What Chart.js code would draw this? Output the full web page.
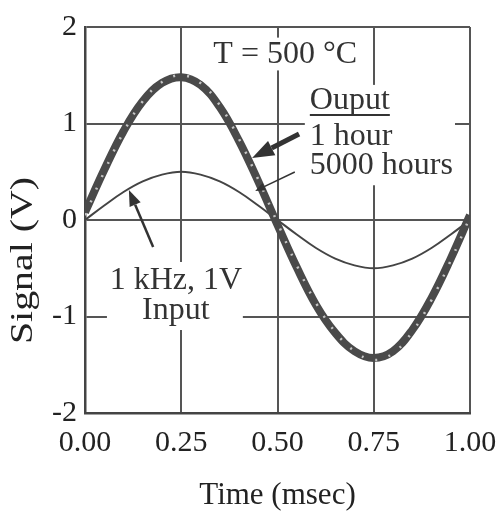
<!DOCTYPE html>
<html>
<head>
<meta charset="utf-8">
<script src="https://cdn.jsdelivr.net/npm/chart.js@4.4.0/dist/chart.umd.min.js"></script>
<style>
  html, body { margin: 0; padding: 0; background: #fff; }
  #chart { display: block; }
</style>
</head>
<body>
<canvas id="chart" width="498" height="514"></canvas>
<script>
// Time axis samples (msec)
const timeMs = [0, 0.05, 0.10, 0.15, 0.20, 0.25, 0.30, 0.35, 0.40, 0.45, 0.50,
                0.55, 0.60, 0.65, 0.70, 0.75, 0.80, 0.85, 0.90, 0.95, 1.00];

// 1 kHz, 1V input signal (V)
const inputSignal = [0, 0.15, 0.29, 0.40, 0.47, 0.50, 0.47, 0.40, 0.29, 0.15, 0.00,
                     -0.15, -0.29, -0.40, -0.47, -0.50, -0.47, -0.40, -0.29, -0.15, 0.00];

// Output after 1 hour (V)
const output1h = [0.08, 0.52, 0.92, 1.23, 1.42, 1.48, 1.40, 1.17, 0.82, 0.40, -0.05,
                  -0.49, -0.88, -1.17, -1.36, -1.43, -1.36, -1.14, -0.81, -0.40, 0.05];

// Output after 5000 hours (V)
const output5000h = [0.05, 0.50, 0.91, 1.23, 1.43, 1.50, 1.42, 1.19, 0.84, 0.42, -0.03,
                     -0.47, -0.86, -1.16, -1.36, -1.45, -1.38, -1.16, -0.83, -0.42, 0.03];

const xTicks = [0, 0.25, 0.5, 0.75, 1.0];
const yTicks = [-2, -1, 0, 1, 2];

const SERIF = '"Liberation Serif", "DejaVu Serif", serif';
const INK = '#222';
const LINE = '#4a4a4a';

function toPoints(ys) {
  return timeMs.map((t, i) => ({ x: t, y: ys[i] }));
}

// Grid segments hidden behind the labels (data units)
const gridGaps = [
  { axis: 'x', at: 0.5, from: 1.89, to: 1.55 },
  { axis: 'x', at: 0.75, from: 1.40, to: 0.36 },
  { axis: 'y', at: 1, from: 0.571, to: 0.961 },
  { axis: 'x', at: 0.25, from: -0.435, to: -1.14 },
  { axis: 'y', at: -1, from: 0.057, to: 0.41 }
];

const gapPlugin = {
  id: 'gridGaps',
  beforeDatasetsDraw(chart) {
    const { ctx, scales: { x, y } } = chart;
    ctx.save();
    ctx.fillStyle = '#fff';
    gridGaps.forEach(g => {
      if (g.axis === 'x') {
        const px = x.getPixelForValue(g.at);
        const y1 = y.getPixelForValue(g.from), y2 = y.getPixelForValue(g.to);
        ctx.fillRect(px - 3, Math.min(y1, y2), 6, Math.abs(y2 - y1));
      } else {
        const py = y.getPixelForValue(g.at);
        const x1 = x.getPixelForValue(g.from), x2 = x.getPixelForValue(g.to);
        ctx.fillRect(Math.min(x1, x2), py - 3, Math.abs(x2 - x1), 6);
      }
    });
    ctx.restore();
  }
};

function arrow(ctx, x0, y0, x1, y1, lw, headLen, headW) {
  const ang = Math.atan2(y1 - y0, x1 - x0);
  const bx = x1 - headLen * Math.cos(ang), by = y1 - headLen * Math.sin(ang);
  ctx.lineWidth = lw;
  ctx.beginPath();
  ctx.moveTo(x0, y0);
  ctx.lineTo(bx, by);
  ctx.stroke();
  ctx.beginPath();
  ctx.moveTo(x1, y1);
  ctx.lineTo(bx + headW / 2 * Math.sin(ang), by - headW / 2 * Math.cos(ang));
  ctx.lineTo(bx - headW / 2 * Math.sin(ang), by + headW / 2 * Math.cos(ang));
  ctx.closePath();
  ctx.fill();
}

const notePlugin = {
  id: 'notes',
  afterDatasetsDraw(chart) {
    const { ctx, scales: { x, y } } = chart;
    const X = v => x.getPixelForValue(v), Y = v => y.getPixelForValue(v);
    ctx.save();
    ctx.fillStyle = '#333';
    ctx.strokeStyle = '#333';
    ctx.font = '32px ' + SERIF;
    ctx.textBaseline = 'alphabetic';

    ctx.textAlign = 'center';
    ctx.fillText('T = 500 °C', X(0.52), Y(1.63));
    ctx.fillText('1 kHz, 1V', X(0.236), Y(-0.715));
    ctx.fillText('Input', X(0.236), Y(-1.026));

    ctx.textAlign = 'left';
    const lx = X(0.584);
    ctx.fillText('Ouput', lx, Y(1.15));
    const w = ctx.measureText('Ouput').width;
    ctx.lineWidth = 2;
    ctx.beginPath();
    ctx.moveTo(lx, Y(1.15) + 6);
    ctx.lineTo(lx + w, Y(1.15) + 6);
    ctx.stroke();
    ctx.fillText('1 hour', lx, Y(0.777));
    ctx.fillText('5000 hours', lx, Y(0.477));

    arrow(ctx, X(0.556), Y(0.891), X(0.434), Y(0.642), 5, 22, 16);
    arrow(ctx, X(0.545), Y(0.497), X(0.442), Y(0.301), 1.5, 10, 8);
    arrow(ctx, X(0.177), Y(-0.280), X(0.114), Y(0.311), 2.5, 16, 12);

    // y axis title, drawn by hand: it sits below the axis centre and is stretched
    ctx.fillStyle = INK;
    ctx.font = '32px ' + SERIF;
    ctx.textAlign = 'center';
    ctx.textBaseline = 'middle';
    const title = 'Signal (V)';
    const tw = ctx.measureText(title).width;
    ctx.translate(24, Y(-0.42));
    ctx.rotate(-Math.PI / 2);
    ctx.scale(167 / tw, 1);
    ctx.fillText(title, 0, 0);
    ctx.restore();
  }
};

new Chart(document.getElementById('chart'), {
  type: 'line',
  data: {
    datasets: [
      {
        label: 'Output 5000 hours',
        data: toPoints(output5000h),
        borderColor: '#c4c4c4',
        borderWidth: 2.5,
        borderDash: [2, 12],
        pointRadius: 0,
        tension: 0.4,
        order: 0
      },
      {
        label: 'Output 1 hour',
        data: toPoints(output1h),
        borderColor: LINE,
        borderWidth: 8,
        pointRadius: 0,
        tension: 0.4,
        order: 1
      },
      {
        label: '1 kHz, 1V Input',
        data: toPoints(inputSignal),
        borderColor: '#444',
        borderWidth: 2,
        pointRadius: 0,
        tension: 0.4,
        order: 2
      }
    ]
  },
  options: {
    responsive: false,
    animation: false,
    layout: { padding: { top: 27, right: 28, bottom: 0, left: 0 } },
    plugins: {
      legend: { display: false },
      tooltip: { enabled: false }
    },
    scales: {
      x: {
        type: 'linear',
        min: 0,
        max: 1,
        afterBuildTicks: s => { s.ticks = xTicks.map(v => ({ value: v })); },
        afterFit: s => { s.height = 101; s.paddingRight = 0; s.paddingLeft = 0; },
        ticks: {
          color: INK,
          padding: 12,
          font: { family: SERIF, size: 30 },
          maxRotation: 0,
          callback: v => Number(v).toFixed(2)
        },
        grid: { color: '#555', lineWidth: 2, drawTicks: false },
        border: { color: '#444', width: 2.5 },
        title: {
          display: true,
          text: 'Time (msec)',
          color: INK,
          font: { family: SERIF, size: 31 },
          padding: 0
        }
      },
      y: {
        min: -2,
        max: 2,
        afterBuildTicks: s => { s.ticks = yTicks.map(v => ({ value: v })); },
        afterFit: s => { s.width = 85; s.paddingTop = 0; s.paddingBottom = 0; },
        ticks: {
          color: INK,
          padding: 8,
          font: { family: SERIF, size: 30 },
          callback: v => String(v)
        },
        grid: { color: '#555', lineWidth: 2, drawTicks: false },
        border: { color: '#444', width: 2.5 },
        title: { display: false }
      }
    }
  },
  plugins: [gapPlugin, notePlugin]
});
</script>
</body>
</html>
